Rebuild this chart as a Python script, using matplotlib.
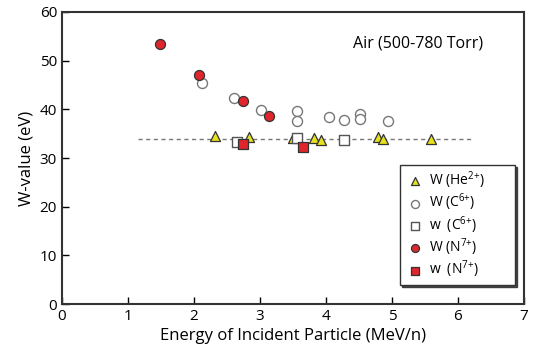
import numpy as np
import matplotlib
matplotlib.use("Agg")
import matplotlib.pyplot as plt

plt.rcParams['font.family'] = ['Open Sans', 'DejaVu Sans']
plt.rcParams['mathtext.fontset'] = 'custom'
plt.rcParams['mathtext.rm'] = 'Open Sans'
plt.rcParams['mathtext.it'] = 'Open Sans'

# W-value data (energy in MeV/n, W in eV)
he_W_x = [2.32, 2.84, 3.50, 3.82, 3.92, 4.79, 4.86, 5.59]
he_W_y = [34.5, 34.3, 34.2, 34.2, 33.8, 34.3, 34.0, 33.9]

c_W_x = [2.13, 2.60, 3.02, 3.56, 3.56, 4.05, 4.27, 4.52, 4.52, 4.94]
c_W_y = [45.5, 42.4, 39.8, 39.6, 37.6, 38.5, 37.8, 39.0, 38.0, 37.7]

c_w_x = [2.65, 3.56, 4.27]
c_w_y = [33.3, 34.2, 33.6]

n_W_x = [1.48, 2.07, 2.74, 3.14]
n_W_y = [53.5, 47.0, 41.8, 38.7]

n_w_x = [2.74, 3.65]
n_w_y = [32.9, 32.2]

line_x = [1.16, 6.25]
line_y = [34.0, 34.0]

fig = plt.figure(figsize=(5.34, 3.5), dpi=100)
ax = fig.add_axes([0.116, 0.131, 0.865, 0.835])

ax.plot(line_x, line_y, '--', color='#777777', lw=1.0, dashes=(3, 2.5), zorder=1)

ms = 52
ax.scatter(c_W_x, c_W_y, s=ms, marker='o', facecolor='white', edgecolor='#777777', lw=1.0, zorder=2, label='W (C$^{6{+}}$)')
ax.scatter(he_W_x, he_W_y, s=ms, marker='^', facecolor='#e6e020', edgecolor='#333333', lw=0.9, zorder=3, label='W (He$^{2{+}}$)')
ax.scatter(c_w_x, c_w_y, s=ms, marker='s', facecolor='white', edgecolor='#555555', lw=1.0, zorder=4, label='w  (C$^{6{+}}$)')
ax.scatter(n_W_x, n_W_y, s=ms, marker='o', facecolor='#e0262c', edgecolor='#333333', lw=0.9, zorder=5, label='W (N$^{7{+}}$)')
ax.scatter(n_w_x, n_w_y, s=ms, marker='s', facecolor='#e0262c', edgecolor='#333333', lw=0.9, zorder=6, label='w  (N$^{7{+}}$)')

ax.set_xlim(0, 7)
ax.set_ylim(0, 60)
ax.set_xticks(range(0, 8))
ax.set_yticks(range(0, 61, 10))
ax.tick_params(direction='in', length=5, width=1, labelsize=11, top=False, right=False)
for s in ax.spines.values():
    s.set_linewidth(1.5)
    s.set_color('#333333')

ax.set_xlabel('Energy of Incident Particle (MeV/n)', fontsize=12, labelpad=3)
ax.set_ylabel('W-value (eV)', fontsize=12, labelpad=4)

ax.text(5.4, 53.5, 'Air (500-780 Torr)', fontsize=11.5, ha='center', va='center')

handles, labels = ax.get_legend_handles_labels()
order = [1, 0, 2, 3, 4]
leg = ax.legend([handles[i] for i in order], [labels[i] for i in order],
                loc='lower left', bbox_to_anchor=(0.732, 0.065, 0.249, 0.3),
                mode='expand', fontsize=10,
                frameon=True, fancybox=False,
                shadow={'ox': 1.5, 'oy': -1.5, 'color': '#333333', 'alpha': 0.9},
                handletextpad=0.3, markerscale=0.8, borderpad=0.35,
                labelspacing=0.05, handlelength=1.4, borderaxespad=0)
leg.get_frame().set_edgecolor('#333333')
leg.get_frame().set_linewidth(1.0)

fig.savefig('out.png', dpi=100)
